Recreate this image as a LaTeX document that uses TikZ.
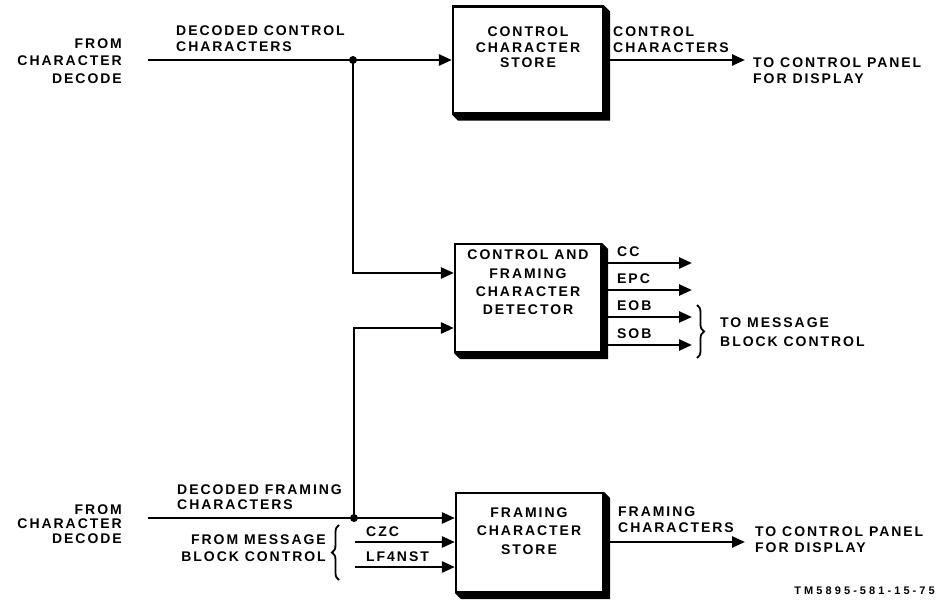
\documentclass[tikz,border=0pt]{standalone}
\usepackage{fontspec}
\newfontfamily\lblfont[LetterSpace=14]{Liberation Sans}
\newfontfamily\tmfont[LetterSpace=28]{Liberation Sans}
\usetikzlibrary{arrows.meta,decorations.pathreplacing}
\begin{document}
\begin{tikzpicture}[x=1pt,y=-1pt,
  lbl/.style={inner sep=0pt, align=left, font=\lblfont\bfseries\fontsize{14}{#1}\selectfont},
  lbl/.default=16,
  tmst/.style={inner sep=0pt, font=\tmfont\bfseries\fontsize{11}{13}\selectfont},
  blk/.style={draw, line width=2.2pt, fill=white, inner sep=0pt},
  arr/.style={line width=2.5pt, -{Triangle[length=13pt,width=11pt]}},
  brc/.style={line width=1.8pt, decorate, decoration={brace, amplitude=7pt}},
  dot/.style={circle, fill, inner sep=0pt, minimum size=8pt}
]
\useasboundingbox (0,0) rectangle (938,604);

% blocks
\node[blk, minimum width=150pt, minimum height=107pt] (topbox) at (528,60) {};
\node[blk, minimum width=146pt, minimum height=108pt] (midbox) at (528,298) {};
\node[blk, minimum width=147pt, minimum height=99pt] (botbox) at (529.5,542.5) {};
\foreach \b in {topbox,midbox,botbox}
  \fill (\b.north east) -- ++(6,6) -- ([shift={(6pt,-6pt)}]\b.south east)
        -- ([shift={(6pt,-6pt)}]\b.south west) -- (\b.south west)
        -- (\b.south east) -- cycle;

% block texts
\node[lbl=15.5, align=center] (topt) at (528,47.5) {CONTROL\\CHARACTER\\STORE};
\node[lbl=18.3, align=center] (midt) at (528,282.5) {CONTROL AND\\FRAMING\\CHARACTER\\DETECTOR};
\node[lbl=18.5, align=center] (bott) at (529,531) {FRAMING\\CHARACTER\\STORE};

% top part
\node[lbl=17.5, align=right, anchor=east] (fromA) at (122,61) {FROM\\CHARACTER\\DECODE};
\node[lbl, anchor=west] (decA) at (176,38.5) {DECODED CONTROL\\CHARACTERS};
\node[lbl, anchor=west] (ccA) at (613,40) {CONTROL\\CHARACTERS};
\node[lbl=15.5, anchor=west] (toA) at (753,70.5) {TO CONTROL PANEL\\FOR DISPLAY};

\coordinate (sA) at (148,60);
\node[dot] (jA) at (353,60) {};
\draw[arr] (sA) -- (topbox.west |- sA);
\draw[arr] (jA.center) |- ([yshift=25pt]midbox.west);
\coordinate (eA) at (745,60);
\draw[arr] (topbox.east |- eA) -- (eA);

% middle outputs
\node[lbl, anchor=west] (cc) at (617,252) {CC};
\node[lbl, anchor=west] (epc) at (617,279) {EPC};
\node[lbl, anchor=west] (eob) at (617,306) {EOB};
\node[lbl, anchor=west] (sob) at (617,334) {SOB};
\coordinate (oCC) at (692,263);
\coordinate (oEPC) at (692,290);
\coordinate (oEOB) at (692,317);
\coordinate (oSOB) at (692,345);
\foreach \o in {oCC,oEPC,oEOB,oSOB}
  \draw[arr] (midbox.east |- \o) -- (\o);
\coordinate (brA1) at (697,305);
\coordinate (brA2) at (697,358);
\draw[brc] (brA1) -- (brA2);
\node[lbl=19, anchor=west] (toMsg) at (720,332) {TO MESSAGE\\BLOCK CONTROL};

% bottom part
\node[lbl=14.5, align=right, anchor=east] (fromB) at (122,524) {FROM\\CHARACTER\\DECODE};
\node[lbl=15, anchor=west] (decB) at (177,497.5) {DECODED FRAMING\\CHARACTERS};
\node[lbl=17, align=right, anchor=east] (fromMsg) at (326,548) {FROM MESSAGE\\BLOCK CONTROL};
\coordinate (brB1) at (339,580);
\coordinate (brB2) at (339,525);
\draw[brc] (brB1) -- (brB2);
\node[lbl, anchor=west] (czc) at (366,532) {CZC};
\node[lbl, anchor=west] (lf) at (366,557) {LF4NST};

\coordinate (sB) at (148,518);
\node[dot] (jB) at (354,518) {};
\draw[arr] (sB) -- (botbox.west |- sB);
\draw[arr] (jB.center) |- ([yshift=-30pt]midbox.west);
\coordinate (cz) at (355,542);
\coordinate (lfs) at (355,567);
\draw[arr] (cz) -- (botbox.west |- cz);
\draw[arr] (lfs) -- (botbox.west |- lfs);

\node[lbl, anchor=west] (framB) at (618,520) {FRAMING\\CHARACTERS};
\node[lbl, anchor=west] (toB) at (755,540) {TO CONTROL PANEL\\FOR DISPLAY};
\coordinate (eB) at (745,542);
\draw[arr] (botbox.east |- eB) -- (eB);

\node[tmst, anchor=east] (tm) at (935,591) {TM5895-581-15-75};
\end{tikzpicture}
\end{document}
